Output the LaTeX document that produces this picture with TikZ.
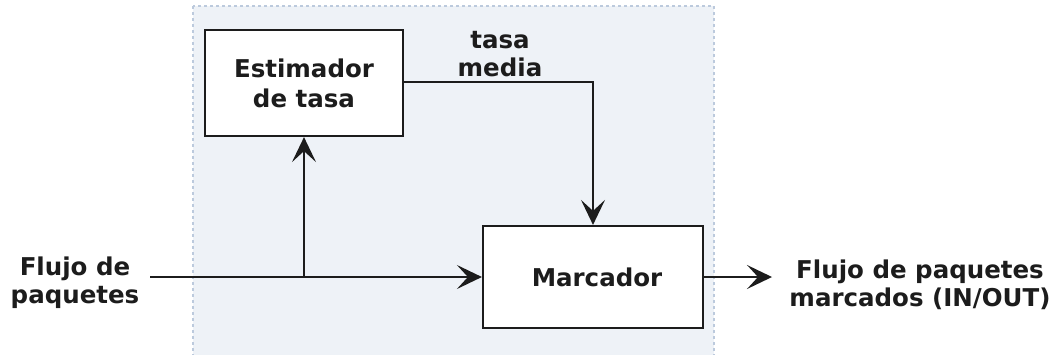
\documentclass[tikz,border=0pt]{standalone}
\usepackage{fontspec}
\setmainfont{DejaVu Sans}
\usetikzlibrary{arrows.meta}
\definecolor{panelfill}{HTML}{EEF2F7}
\definecolor{paneledge}{HTML}{BCCADD}
\definecolor{ink}{HTML}{1C1C1C}
\tikzset{
  blk/.style={draw=ink, line width=2.2pt, fill=white, rectangle, inner sep=0pt,
    font=\fontsize{24.5}{30}\selectfont\bfseries, align=center, text=ink},
  lbl/.style={font=\fontsize{24.5}{28}\selectfont\bfseries, align=center, text=ink, inner sep=0pt},
  conn/.style={draw=ink, line width=1.6pt},
  arr/.style={conn, -{Stealth[length=25pt, width=24pt, inset=11pt]}},
  panel/.style={fill=panelfill, draw=paneledge, line width=1.2pt, dash pattern=on 3pt off 3pt}
}
\begin{document}
\begin{tikzpicture}[x=1pt,y=-1pt]
\useasboundingbox (0,0) rectangle (1060,354);
\fill[white] (0,0) rectangle (1060,354);
\draw[panel] (193,6) rectangle (714,356);
\node[blk, minimum width=198pt, minimum height=106pt] (est) at (304,83) {Estimador\\de tasa};
\node[blk, minimum width=220pt, minimum height=102pt] (mar) at (593,277) {\hspace*{8pt}Marcador};
\node[lbl] (tm) at (500,54) {tasa\\media};
\node[lbl] (fin) at (75,283) {Flujo de\\paquetes};
\node[lbl] (fout) at (920,285) {Flujo de paquetes\\marcados (IN/OUT)};
\coordinate (in) at (150,277);
\coordinate (br) at (304,277);
\coordinate (out) at (772,277);
\draw[arr] (in) -- (mar.west);
\draw[arr] (br) -- (est.south);
\draw[arr] ([yshift=1pt]est.east) -| (mar.north);
\draw[arr] (mar.east) -- (out);
\end{tikzpicture}
\end{document}
